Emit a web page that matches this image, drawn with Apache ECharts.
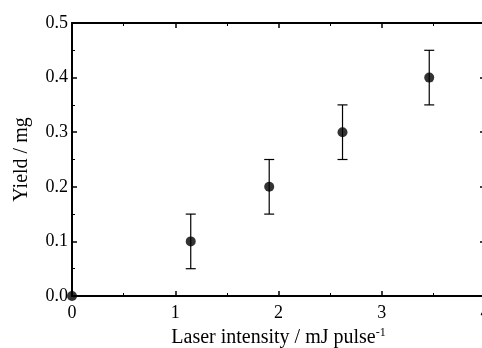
<!DOCTYPE html>
<html>
<head>
<meta charset="utf-8">
<script src="https://cdn.jsdelivr.net/npm/echarts@6/dist/echarts.min.js"></script>
<style>
html, body { margin: 0; padding: 0; background: #fff; }
#main { width: 482px; height: 348px; }
</style>
</head>
<body>
<div id="main"></div>
<script>
// laser intensity (mJ/pulse) and yield (mg), error +-
var intensity = [0, 1.15, 1.91, 2.62, 3.46];
var yieldMg = [0, 0.1, 0.2, 0.3, 0.4];
var yieldErr = [0, 0.05, 0.05, 0.05, 0.05];
var xTicks = [0, 1, 2, 3, 4];
var yTicks = [0.0, 0.1, 0.2, 0.3, 0.4, 0.5];

var font = 'Liberation Serif';
var myChart = echarts.init(document.getElementById('main'));

var points = [], bars = [];
for (var i = 0; i < intensity.length; i++) {
	points.push([intensity[i], yieldMg[i]]);
	if (yieldErr[i] > 0) {
		bars.push([intensity[i], yieldMg[i] - yieldErr[i], yieldMg[i] + yieldErr[i]]);
	}
}

function frameAxis(extra) {
	var ax = {
		axisLine: { show: true, onZero: false, lineStyle: { color: '#000', width: 2 } },
		axisTick: { show: true, inside: true, length: 5, lineStyle: { color: '#000', width: 1.5 } },
		minorTick: { show: true, splitNumber: 2, length: 3, lineStyle: { color: '#000', width: 1 } },
		splitLine: { show: false },
		axisLabel: { show: false }
	};
	for (var k in extra) ax[k] = extra[k];
	return ax;
}

var option = {
	animation: false,
	grid: { left: 72, top: 23, width: 413, bottom: 52, outerBoundsMode: 'none', containLabel: false },
	xAxis: [
		frameAxis({
			type: 'value', position: 'bottom', min: 0, max: 4, interval: 1,
			axisLabel: {
				show: true, color: '#000', fontFamily: font, fontSize: 18, margin: 8,
				formatter: function (v) { return xTicks.indexOf(v) >= 0 ? String(v) : ''; }
			},
			name: '{t|Laser intensity / mJ pulse}{sup|-1}',
			nameLocation: 'middle', nameGap: 25,
			nameTextStyle: {
				rich: {
					t: { fontFamily: font, fontSize: 20, color: '#000' },
					sup: { fontFamily: font, fontSize: 12, color: '#000', padding: [0, 0, 10, 0] }
				}
			}
		}),
		frameAxis({ type: 'value', position: 'top', min: 0, max: 4, interval: 1 })
	],
	yAxis: [
		frameAxis({
			type: 'value', position: 'left', min: 0, max: 0.5, interval: 0.1,
			axisLabel: {
				show: true, color: '#000', fontFamily: font, fontSize: 18, margin: 4,
				formatter: function (v) { return yTicks.indexOf(+v.toFixed(1)) >= 0 ? v.toFixed(1) : ''; }
			},
			name: 'Yield / mg', nameLocation: 'middle', nameGap: 40,
			nameTextStyle: { fontFamily: font, fontSize: 20, color: '#000' }
		}),
		frameAxis({ type: 'value', position: 'right', min: 0, max: 0.5, interval: 0.1 })
	],
	series: [
		{
			type: 'custom',
			data: bars,
			renderItem: function (params, api) {
				var x = api.value(0);
				var lo = api.coord([x, api.value(1)]);
				var hi = api.coord([x, api.value(2)]);
				var w = 5;
				var st = { stroke: '#000', lineWidth: 1.2 };
				return {
					type: 'group',
					children: [
						{ type: 'line', shape: { x1: lo[0], y1: lo[1], x2: hi[0], y2: hi[1] }, style: st },
						{ type: 'line', shape: { x1: lo[0] - w, y1: lo[1], x2: lo[0] + w, y2: lo[1] }, style: st },
						{ type: 'line', shape: { x1: hi[0] - w, y1: hi[1], x2: hi[0] + w, y2: hi[1] }, style: st }
					]
				};
			},
			z: 2
		},
		{
			type: 'scatter',
			data: points,
			symbol: 'circle',
			symbolSize: 10,
			itemStyle: { color: '#000' },
			clip: false,
			z: 3
		}
	]
};
myChart.setOption(option);
</script>
</body>
</html>
